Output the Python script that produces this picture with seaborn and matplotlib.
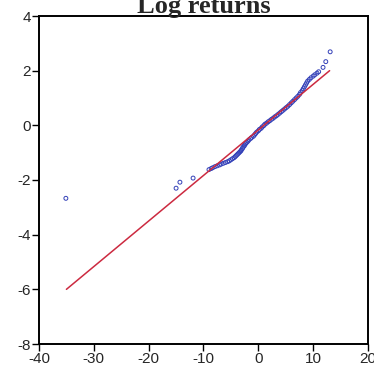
import matplotlib
matplotlib.use("Agg")
import matplotlib.pyplot as plt
import seaborn as sns
import pandas as pd

q_x = [-35.1, -15.0, -14.3, -11.9, -9.0, -8.6, -8.3, -7.9, -7.5, -7.1, -6.8, -6.4,
       -6.0, -5.6, -5.3, -5.0, -4.7, -4.4, -4.2, -4.0, -3.8, -3.6, -3.4, -3.2,
       -3.1, -2.9, -2.8, -2.6, -2.5, -2.3, -2.1, -1.9, -1.7, -1.4, -1.2, -0.9,
       -0.7, -0.5, -0.3, 0.0, 0.2, 0.5, 0.7, 1.0, 1.2, 1.5, 1.8, 2.1, 2.4, 2.7,
       3.0, 3.3, 3.6, 3.9, 4.2, 4.5, 4.8, 5.1, 5.4, 5.7, 6.0, 6.3, 6.6, 6.9, 7.2,
       7.5, 7.7, 8.0, 8.2, 8.4, 8.6, 8.8, 9.0, 9.3, 9.6, 10.0, 10.3, 10.7, 11.0,
       11.8, 12.3, 13.1]
q_y = [-2.67, -2.30, -2.08, -1.93, -1.62, -1.58, -1.55, -1.51, -1.48, -1.45, -1.42,
       -1.39, -1.36, -1.33, -1.30, -1.26, -1.22, -1.18, -1.14, -1.10, -1.06, -1.02,
       -0.98, -0.94, -0.90, -0.85, -0.80, -0.76, -0.72, -0.67, -0.62, -0.58, -0.53,
       -0.48, -0.44, -0.40, -0.35, -0.30, -0.25, -0.20, -0.15, -0.11, -0.06, -0.01,
       0.04, 0.08, 0.13, 0.17, 0.22, 0.26, 0.31, 0.35, 0.40, 0.45, 0.50, 0.55,
       0.60, 0.65, 0.70, 0.76, 0.82, 0.88, 0.94, 1.00, 1.06, 1.13, 1.20, 1.27,
       1.34, 1.41, 1.48, 1.55, 1.62, 1.68, 1.74, 1.80, 1.85, 1.91, 1.96, 2.12,
       2.33, 2.69]

# Reference line endpoints
line_x = [-35.0, 13.0]
line_y = [-6.0, 2.0]

title = "Log returns"
x_ticks = [-40, -30, -20, -10, 0, 10, 20]
y_ticks = [-8, -6, -4, -2, 0, 2, 4]

sns.set_style("white")
plt.rcParams['font.family'] = ['Liberation Sans', 'DejaVu Sans']

fig = plt.figure(figsize=(3.74, 3.72), dpi=100)
ax = fig.add_axes([39/374, 1 - 344/372, (368 - 39)/374, (344 - 16)/372])

pts = pd.DataFrame({"x": q_x, "y": q_y})
ln = pd.DataFrame({"x": line_x, "y": line_y})

sns.lineplot(data=ln, x="x", y="y", ax=ax, color="#cc2a40", linewidth=1.1)
sns.scatterplot(data=pts, x="x", y="y", ax=ax, marker="o", s=8,
                facecolors="none", edgecolor="#3340b8", linewidth=0.7)

ax.set_xlim(-40, 20)
ax.set_ylim(-8, 4)
ax.set_xticks(x_ticks)
ax.set_yticks(y_ticks)
ax.set_xticklabels([str(t) for t in x_ticks])
ax.set_yticklabels([str(t) for t in y_ticks])
ax.set_xlabel("")
ax.set_ylabel("")
ax.tick_params(axis="both", direction="out", length=5, width=1, color="black",
               labelsize=11, pad=1, bottom=True, left=True)
for s in ax.spines.values():
    s.set_color("black")
    s.set_linewidth(1.4)

ax.set_title(title, family=["Liberation Serif", "DejaVu Serif"], fontweight="bold",
             fontsize=19, pad=2)

fig.savefig("out.png", dpi=100)
